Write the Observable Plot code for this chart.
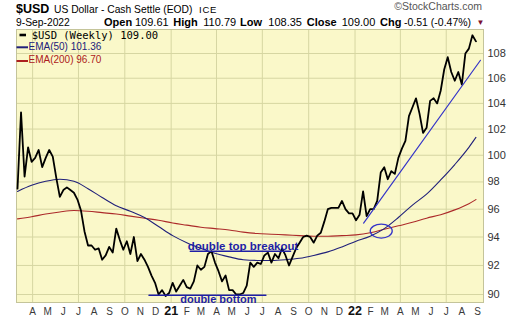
<!DOCTYPE html>
<html><head><meta charset="utf-8">
<script src="https://cdn.jsdelivr.net/npm/d3@7"></script>
<script src="https://cdn.jsdelivr.net/npm/@observablehq/plot@0.6"></script>
<style>
html,body{margin:0;padding:0;background:#fff;}
#wrap{width:520px;height:318px;position:relative;overflow:hidden;font-family:"Liberation Sans",Arial,sans-serif;}
#head{display:block}
#chart svg{display:block}
</style></head><body>
<div id="wrap"><svg id="head" width="520" height="28"></svg><div id="chart"></div></div>
<script>
// ---------- data ----------
const symbol = "$USD";
const title = "US Dollar - Cash Settle (EOD)";
const exchange = "ICE";
const dateLabel = "9-Sep-2022";
const quote = [["Open", "109.61"], ["High", "110.79"], ["Low", "108.35"], ["Close", "109.00"], ["Chg", "-0.51 (-0.47%)"]];
const legendLabels = ["$USD (Weekly) 109.00", "EMA(50) 101.36", "EMA(200) 96.70"];

const firstWeek = "2020-03-02";
const closes = [
 97.5,103.3,98.4,100.6,99.5,99.8,100.4,99.1,99.8,100.4,
 99.9,98.3,96.9,97.4,97.6,97.4,97.2,96.7,95.9,94.4,
 93.4,93.4,93.1,93.2,92.4,92.7,93.3,92.9,94.6,93.8,
 93.1,93.7,92.8,94.0,92.3,92.8,92.4,91.9,91.3,90.8,
 90.0,90.3,89.9,90.1,90.8,90.2,90.6,91.0,90.5,90.4,
 90.9,92.0,91.7,91.9,92.8,93.0,92.2,91.6,90.9,91.3,
 90.3,90.3,90.0,90.0,90.1,90.6,92.2,91.9,92.2,92.1,
 92.7,92.9,92.2,92.8,92.5,93.2,92.7,92.0,92.6,93.2,
 93.6,94.0,94.1,94.0,93.6,94.1,94.3,95.1,96.0,96.1,
 96.1,96.1,96.6,96.0,95.7,95.7,95.2,95.6,97.3,95.5,
 96.0,96.0,96.6,98.7,99.1,98.2,98.8,98.6,99.8,100.5,
 101.1,103.0,103.7,104.4,103.2,101.7,102.1,104.2,104.4,104.0,
 105.0,106.7,107.7,106.5,105.8,106.5,105.5,108.0,108.4,109.5,
 109.0
];

const emaDates = ["2020-03-02","2020-03-30","2020-04-27","2020-05-25","2020-06-22","2020-07-20","2020-08-17","2020-09-14","2020-10-12","2020-11-09","2020-12-07","2021-01-04","2021-02-01","2021-03-01","2021-03-29","2021-04-26","2021-05-24","2021-06-21","2021-07-19","2021-08-16","2021-09-13","2021-10-11","2021-11-08","2021-12-06","2022-01-03","2022-01-31","2022-02-28","2022-03-28","2022-04-25","2022-05-23","2022-06-20","2022-07-18","2022-08-15","2022-08-29"];
const ema50 = [97.3,97.75,98.05,98.2,98.05,97.5,96.85,96.25,95.85,95.4,94.75,94.1,93.6,93.2,92.85,92.6,92.4,92.35,92.35,92.4,92.5,92.7,92.95,93.3,93.7,94.05,94.6,95.4,96.3,97.1,98.15,99.3,100.6,101.36];
const ema200 = [95.3,95.45,95.65,95.8,95.9,95.85,95.75,95.65,95.5,95.35,95.2,95.0,94.85,94.7,94.6,94.5,94.35,94.25,94.2,94.15,94.1,94.05,94.05,94.1,94.15,94.3,94.55,94.8,95.05,95.35,95.6,95.95,96.4,96.7];

const trendDates = ["2022-01-18", "2022-09-07"];
const trendValues = [95.0, 107.45];
const topLineDates = ["2021-02-08", "2021-08-26"];
const topLineValue = 93.0;
const bottomLineDates = ["2020-11-18", "2021-07-08"];
const bottomLineValue = 89.95;
const topLabel = {date: "2021-02-03", value: 93.0, text: "double top breakout"};
const bottomLabel = {date: "2021-01-19", value: 89.95, text: "double bottom"};
const circleAt = {date: "2022-02-23", value: 94.39};

const yTicks = [90, 92, 94, 96, 98, 100, 102, 104, 106, 108];
const monthLetters = ["J","F","M","A","M","J","J","A","S","O","N","D"];
const xDomain = ["2020-02-29", "2022-09-13"];
const yDomain = [89.457, 109.98];

// ---------- build ----------
const dayMs = 864e5;
const t0 = new Date(firstWeek).getTime();
const price = closes.map((v, i) => ({date: new Date(t0 + i * 7 * dayMs), value: v}));
const emaRows = emaDates.map((d, i) => ({date: new Date(d), e50: ema50[i], e200: ema200[i]}));
const trend = trendDates.map((d, i) => ({date: new Date(d), value: trendValues[i]}));
const topLine = topLineDates.map(d => ({date: new Date(d), value: topLineValue}));
const bottomLine = bottomLineDates.map(d => ({date: new Date(d), value: bottomLineValue}));

const months = d3.utcMonths(new Date("2020-04-01"), new Date("2022-09-02"));
const monthTicks = months.filter(d => d.getUTCMonth() !== 0);
const yearTicks = months.filter(d => d.getUTCMonth() === 0);
const quarterTicks = months.filter(d => d.getUTCMonth() % 3 === 0);

const gridColor = "#d6d6a2";
const annColor = "#1f1fa6";

const chart = Plot.plot({
  width: 520, height: 290,
  marginLeft: 16, marginRight: 37, marginTop: 1, marginBottom: 16,
  style: {fontFamily: "'Liberation Sans', Arial, sans-serif", fontSize: "11px", background: "transparent", overflow: "visible"},
  x: {type: "utc", domain: xDomain.map(d => new Date(d)), axis: null},
  y: {type: "log", domain: yDomain, axis: null},
  marks: [
    Plot.frame({fill: "#faf8c9", stroke: "none"}),
    Plot.ruleY(yTicks, {stroke: gridColor, strokeWidth: 1}),
    Plot.ruleX(quarterTicks, {stroke: gridColor, strokeWidth: 1}),
    Plot.frame({stroke: "#c4c49a"}),
    Plot.line(emaRows, {x: "date", y: "e200", stroke: "#ac2a2a", strokeWidth: 1.1, curve: "monotone-x"}),
    Plot.line(emaRows, {x: "date", y: "e50", stroke: "#20207a", strokeWidth: 1.1, curve: "monotone-x"}),
    Plot.line(price, {x: "date", y: "value", stroke: "#000", strokeWidth: 1.8}),
    Plot.line(trend, {x: "date", y: "value", stroke: "#3434c8", strokeWidth: 1.2}),
    Plot.line(topLine, {x: "date", y: "value", stroke: annColor, strokeWidth: 1.5}),
    Plot.line(bottomLine, {x: "date", y: "value", stroke: annColor, strokeWidth: 1.5}),
    Plot.text([topLabel], {x: d => new Date(d.date), y: "value", text: "text", textAnchor: "start", lineAnchor: "bottom", dy: -1, fill: annColor, fontWeight: "bold", fontSize: 11.5}),
    Plot.text([bottomLabel], {x: d => new Date(d.date), y: "value", text: "text", textAnchor: "start", lineAnchor: "top", dy: 0, fill: annColor, fontWeight: "bold", fontSize: 11}),
    Plot.text(monthTicks, {x: d => d, text: d => monthLetters[d.getUTCMonth()], frameAnchor: "bottom", lineAnchor: "bottom", dy: 12, fontSize: 10, fill: "#3a3a3a"}),
    Plot.text(yearTicks, {x: d => d, text: d => String(d.getUTCFullYear()).slice(2), frameAnchor: "bottom", lineAnchor: "bottom", dy: 12, fontSize: 12.5, fontWeight: "bold", fill: "#111"}),
    Plot.text(yTicks, {y: d => d, text: d => String(d), frameAnchor: "right", textAnchor: "start", dx: 4, fontSize: 11, fill: "#333"})
  ]
});
document.getElementById("chart").appendChild(chart);

// circle annotation and legend, positioned through the chart scales
const sx = chart.scale("x"), sy = chart.scale("y");
const svg = d3.select(chart);
svg.append("ellipse")
  .attr("cx", sx.apply(new Date(circleAt.date)))
  .attr("cy", sy.apply(circleAt.value))
  .attr("rx", 11).attr("ry", 7)
  .attr("fill", "none").attr("stroke", "#3434c8").attr("stroke-width", 1.3);

const lg = svg.append("g").attr("text-anchor", "start");
const legendStyle = [
  {color: "#000", sw: 2.6, x1: 19.5, x2: 26, ly: 7, tx: 31.7, ty: 11, font: "'DejaVu Sans Mono', monospace", size: 10.5},
  {color: "#20207a", sw: 2, x1: 16.5, x2: 28, ly: 19.3, tx: 28.5, ty: 22, font: "'Liberation Sans', Arial, sans-serif", size: 10},
  {color: "#ac2020", sw: 2, x1: 16.5, x2: 28, ly: 33, tx: 28.5, ty: 35.3, font: "'Liberation Sans', Arial, sans-serif", size: 10}
];
legendLabels.forEach((label, i) => {
  const s = legendStyle[i];
  lg.append("line").attr("x1", s.x1).attr("x2", s.x2).attr("y1", s.ly).attr("y2", s.ly)
    .attr("stroke", s.color).attr("stroke-width", s.sw);
  lg.append("text").attr("x", s.tx).attr("y", s.ty).attr("fill", s.color).attr("text-anchor", "start")
    .style("font-family", s.font).style("font-size", s.size + "px").text(label);
});

// header
const head = d3.select("#head").style("font-family", "'Liberation Sans', Arial, sans-serif");
head.append("text").attr("x", 16).attr("y", 12.7).attr("font-weight", "bold").attr("font-size", 12.5).text(symbol);
head.append("text").attr("x", 54).attr("y", 12.7).attr("font-size", 10.3).text(title);
head.append("text").attr("x", 199).attr("y", 12.7).attr("font-size", 9.5).attr("letter-spacing", 0.8).text(exchange);
head.append("text").attr("x", 482).attr("y", 10).attr("text-anchor", "end").attr("font-size", 10.5).attr("fill", "#555").text("\u00A9StockCharts.com");
head.append("text").attr("x", 16).attr("y", 26).attr("font-size", 10.3).text(dateLabel);
const quoteX = [[104, 135], [173.3, 203.3], [240, 268.3], [306.7, 341.7], [380, 404]];
quote.forEach(([k, v], i) => {
  head.append("text").attr("x", quoteX[i][0]).attr("y", 26).attr("font-size", 11).attr("font-weight", "bold").text(k);
  head.append("text").attr("x", quoteX[i][1]).attr("y", 26).attr("font-size", i === 4 ? 10.5 : 11).text(v);
});
head.append("text").attr("x", 476.5).attr("y", 25).attr("font-size", 8).attr("fill", "#7a1030").text("\u25BC");
</script>
</body></html>
